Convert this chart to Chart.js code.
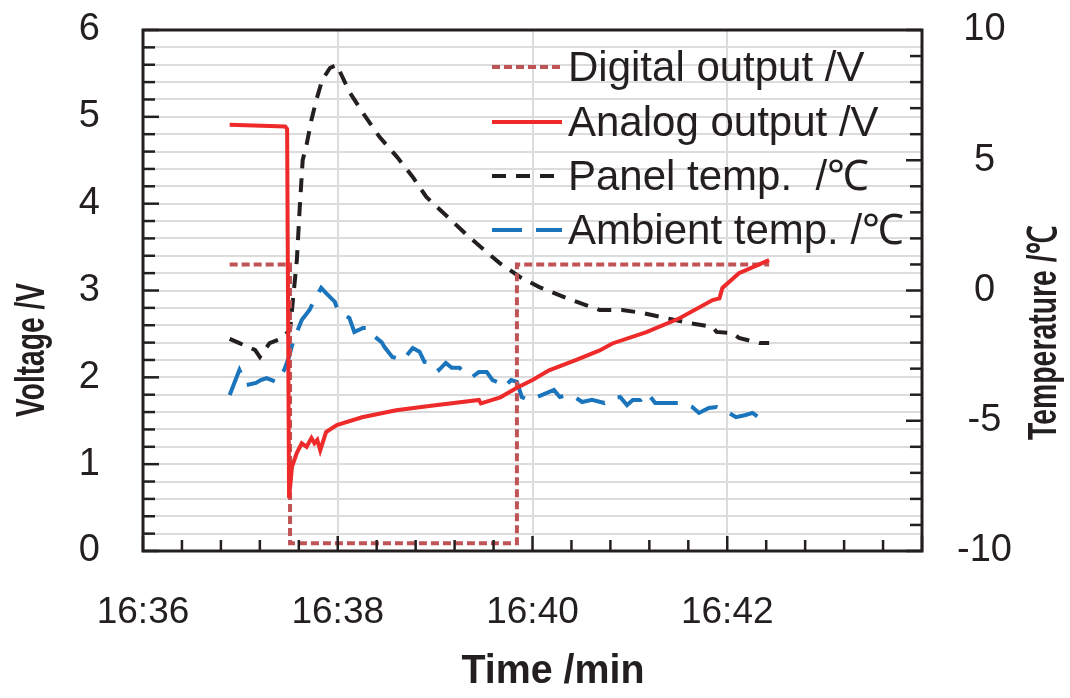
<!DOCTYPE html>
<html>
<head>
<meta charset="utf-8">
<script src="https://cdn.jsdelivr.net/npm/chart.js@4.4.1/dist/chart.umd.min.js"></script>
<style>
  html, body { margin: 0; padding: 0; background: #fff; }
  #wrap { width: 1070px; height: 698px; }
</style>
</head>
<body>
<div id="wrap"><canvas id="chart" width="1070" height="698"></canvas></div>
<script>
// time in minutes after 16:00
const digitalTime = [36.89, 37.51, 37.51, 39.84, 39.84, 42.43];
const digitalVolt = [3.3, 3.3, 0.09, 0.09, 3.3, 3.3];

const analogTime = [36.89, 37.46, 37.48, 37.50, 37.53, 37.58, 37.63, 37.68, 37.73, 37.76, 37.79, 37.82,
    37.88, 37.99, 38.25, 38.60, 38.94, 39.45, 39.47, 39.67, 39.84, 40.00, 40.17, 40.45, 40.69,
    40.82, 41.17, 41.51, 41.85, 41.92, 41.95, 42.12, 42.43];
const analogVolt = [4.91, 4.89, 4.86, 0.61, 0.97, 1.13, 1.24, 1.20, 1.30, 1.24, 1.28, 1.16,
    1.37, 1.45, 1.54, 1.62, 1.67, 1.74, 1.70, 1.77, 1.88, 1.97, 2.08, 2.20, 2.31,
    2.39, 2.52, 2.68, 2.89, 2.91, 3.03, 3.20, 3.35];

const panelTime = [36.89, 36.99, 37.15, 37.20, 37.30, 37.41, 37.51, 37.54, 37.58, 37.61, 37.64, 37.68,
    37.73, 37.78, 37.84, 37.92, 37.99, 38.12, 38.26, 38.43, 38.61, 38.77, 38.91, 39.25, 39.35,
    39.66, 39.87, 40.07, 40.35, 40.69, 40.92, 41.13, 41.37, 41.61, 41.85, 41.89, 42.05, 42.12,
    42.33, 42.43];
const panelTemp = [-1.86, -2.02, -2.28, -2.55, -2.02, -1.86, -1.52, -0.36, 1.17, 3.2, 5.01, 5.6,
    6.55, 7.31, 8.08, 8.54, 8.66, 7.62, 6.81, 5.89, 5.12, 4.36, 3.59, 2.40, 2.05,
    1.06, 0.52, 0.13, -0.29, -0.75, -0.75, -0.86, -1.06, -1.25, -1.40, -1.59, -1.63, -1.82,
    -2.02, -2.02];

const ambientTime = [36.89, 36.99, 37.06, 37.16, 37.21, 37.27, 37.37, 37.45, 37.50, 37.54, 37.63, 37.71,
    37.76, 37.83, 37.88, 37.97, 38.00, 38.12, 38.17, 38.26, 38.31, 38.36, 38.45, 38.48, 38.56,
    38.67, 38.77, 38.84, 38.89, 38.99, 39.04, 39.11, 39.17, 39.25, 39.30, 39.38, 39.45, 39.53,
    39.59, 39.66, 39.71, 39.78, 39.84, 39.89, 39.95, 40.02, 40.10, 40.22, 40.28, 40.35, 40.45,
    40.51, 40.61, 40.74, 40.84, 40.90, 40.97, 41.03, 41.11, 41.18, 41.26, 41.36, 41.45, 41.54,
    41.64, 41.71, 41.81, 41.89, 41.97, 42.09, 42.19, 42.26, 42.36, 42.43];
const ambientTemp = [-4.01, -3.05, -3.63, -3.55, -3.44, -3.36, -3.51, -3.05, -2.55, -1.98, -1.13, -0.75,
    -0.36, 0.10, -0.10, -0.44, -0.75, -1.06, -1.59, -1.44, -1.44, -1.71, -1.98, -2.17, -2.55,
    -2.67, -2.21, -2.35, -2.74, -2.78, -3.05, -2.78, -2.97, -2.97, -3.13, -3.32, -3.13, -3.13,
    -3.44, -3.55, -3.70, -3.44, -3.51, -4.09, -4.20, -4.13, -4.01, -3.82, -4.09, -4.01, -4.13,
    -4.28, -4.20, -4.32, -4.13, -4.09, -4.40, -4.20, -4.20, -3.93, -4.32, -4.32, -4.32, -4.32,
    -4.47, -4.70, -4.51, -4.47, -4.59, -4.86, -4.78, -4.70, -4.97, -4.90];

const seriesLabels = ["Digital output /V", "Analog output /V", "Panel temp.  /\u2103", "Ambient temp. /\u2103"];
const xTickLabels = { 36: "16:36", 38: "16:38", 40: "16:40", 42: "16:42" };

const ink = "#231f20";
const font = "'Liberation Sans', Arial, sans-serif";

function pts(xs, ys) {
    return xs.map((x, i) => ({ x: x, y: ys[i] }));
}
function near(v, step) {
    return Math.abs(v / step - Math.round(v / step)) < 1e-6;
}
// draw a title squeezed to a given length
function title(ctx, text, x, y, len, rot) {
    ctx.save();
    ctx.translate(x, y);
    if (rot) ctx.rotate(-Math.PI / 2);
    const w = ctx.measureText(text).width;
    ctx.scale(Math.min(1, len / w), 1);
    ctx.fillText(text, 0, 0);
    ctx.restore();
}

// frame, inward ticks, legend, axis titles
const decor = {
    id: "decor",
    afterDatasetsDraw(chart) {
        const { ctx, chartArea: a, scales } = chart;
        ctx.save();
        ctx.strokeStyle = ink;
        ctx.lineWidth = 2.5;
        scales.x.ticks.forEach(t => {
            const px = scales.x.getPixelForValue(t.value);
            const len = near(t.value, 2) ? 15 : 11;
            ctx.beginPath(); ctx.moveTo(px, a.bottom); ctx.lineTo(px, a.bottom - len); ctx.stroke();
        });
        scales.y.ticks.forEach(t => {
            const py = scales.y.getPixelForValue(t.value);
            const len = near(t.value, 1) ? 16 : 12;
            ctx.beginPath(); ctx.moveTo(a.left, py); ctx.lineTo(a.left + len, py); ctx.stroke();
        });
        scales.y2.ticks.forEach(t => {
            const py = scales.y2.getPixelForValue(t.value);
            const len = near(t.value, 5) ? 16 : 12;
            ctx.beginPath(); ctx.moveTo(a.right, py); ctx.lineTo(a.right - len, py); ctx.stroke();
        });
        ctx.lineWidth = 3;
        ctx.strokeRect(a.left, a.top, a.right - a.left, a.bottom - a.top);

        // legend
        const rows = [67, 122, 176, 230];
        chart.data.datasets.forEach((ds, i) => {
            ctx.save();
            ctx.strokeStyle = ds.borderColor;
            ctx.lineWidth = ds.borderWidth;
            ctx.setLineDash(ds.borderDash || []);
            ctx.beginPath(); ctx.moveTo(492, rows[i]); ctx.lineTo(562, rows[i]); ctx.stroke();
            ctx.restore();
            ctx.fillStyle = ink;
            ctx.font = "42px " + font;
            ctx.textBaseline = "middle";
            ctx.textAlign = "left";
            ctx.fillText(ds.label, 568, rows[i] + 2);
        });

        // axis titles
        ctx.fillStyle = ink;
        ctx.font = "bold 40px " + font;
        ctx.textAlign = "center";
        ctx.textBaseline = "middle";
        title(ctx, "Time /min", 553, 672, 183, false);
        title(ctx, "Voltage /V", 33, 350, 134, true);
        title(ctx, "Temperature /\u2103", 1045, 333, 214, true);
        ctx.restore();
    }
};

new Chart(document.getElementById("chart"), {
    type: "line",
    data: {
        datasets: [
            { label: seriesLabels[0], data: pts(digitalTime, digitalVolt), yAxisID: "y", order: 1,
              borderColor: "#bf5457", borderWidth: 4, borderDash: [8, 4] },
            { label: seriesLabels[1], data: pts(analogTime, analogVolt), yAxisID: "y", order: 0,
              borderColor: "#ee2a2a", borderWidth: 4 },
            { label: seriesLabels[2], data: pts(panelTime, panelTemp), yAxisID: "y2", order: 2,
              borderColor: ink, borderWidth: 4, borderDash: [14, 10] },
            { label: seriesLabels[3], data: pts(ambientTime, ambientTemp), yAxisID: "y2", order: 3,
              borderColor: "#1b75bc", borderWidth: 4, borderDash: [30, 14] }
        ]
    },
    options: {
        responsive: false,
        animation: false,
        devicePixelRatio: 1,
        layout: { padding: { top: 30, left: 0, right: 0, bottom: 0 } },
        elements: { point: { radius: 0 }, line: { tension: 0, fill: false } },
        plugins: { legend: { display: false }, tooltip: { enabled: false } },
        scales: {
            x: {
                type: "linear", min: 36, max: 44,
                afterFit: s => { s.height = 147; s.paddingLeft = 0; s.paddingRight = 0; },
                border: { display: false },
                grid: {
                    drawTicks: false, lineWidth: 2,
                    color: c => (c.tick && near(c.tick.value, 2)) ? "#dcdcdc" : "rgba(0,0,0,0)"
                },
                ticks: {
                    stepSize: 0.4, maxTicksLimit: 100, autoSkip: false, maxRotation: 0,
                    padding: 40, color: ink, font: { family: font, size: 37 },
                    callback: v => {
                        const k = Math.round(v);
                        return (near(v, 2) && xTickLabels[k]) ? xTickLabels[k] : "";
                    }
                }
            },
            y: {
                position: "left", min: 0, max: 6,
                afterFit: s => { s.width = 143; s.paddingTop = 0; s.paddingBottom = 0; },
                border: { display: false },
                grid: { drawTicks: false, lineWidth: 2, color: "#dcdcdc" },
                ticks: {
                    stepSize: 0.2, maxTicksLimit: 100, autoSkip: false, padding: 43, color: ink,
                    font: { family: font, size: 38 },
                    callback: v => near(v, 1) ? String(Math.round(v)) : ""
                }
            },
            y2: {
                position: "right", min: -10, max: 10,
                afterFit: s => { s.width = 148; s.paddingTop = 0; s.paddingBottom = 0; },
                border: { display: false },
                grid: { drawOnChartArea: false, drawTicks: false },
                ticks: {
                    stepSize: 1, maxTicksLimit: 100, autoSkip: false, padding: 35, crossAlign: "center",
                    color: ink, font: { family: font, size: 38 },
                    callback: v => near(v, 5) ? String(Math.round(v)) : ""
                }
            }
        }
    },
    plugins: [decor]
});
</script>
</body>
</html>
